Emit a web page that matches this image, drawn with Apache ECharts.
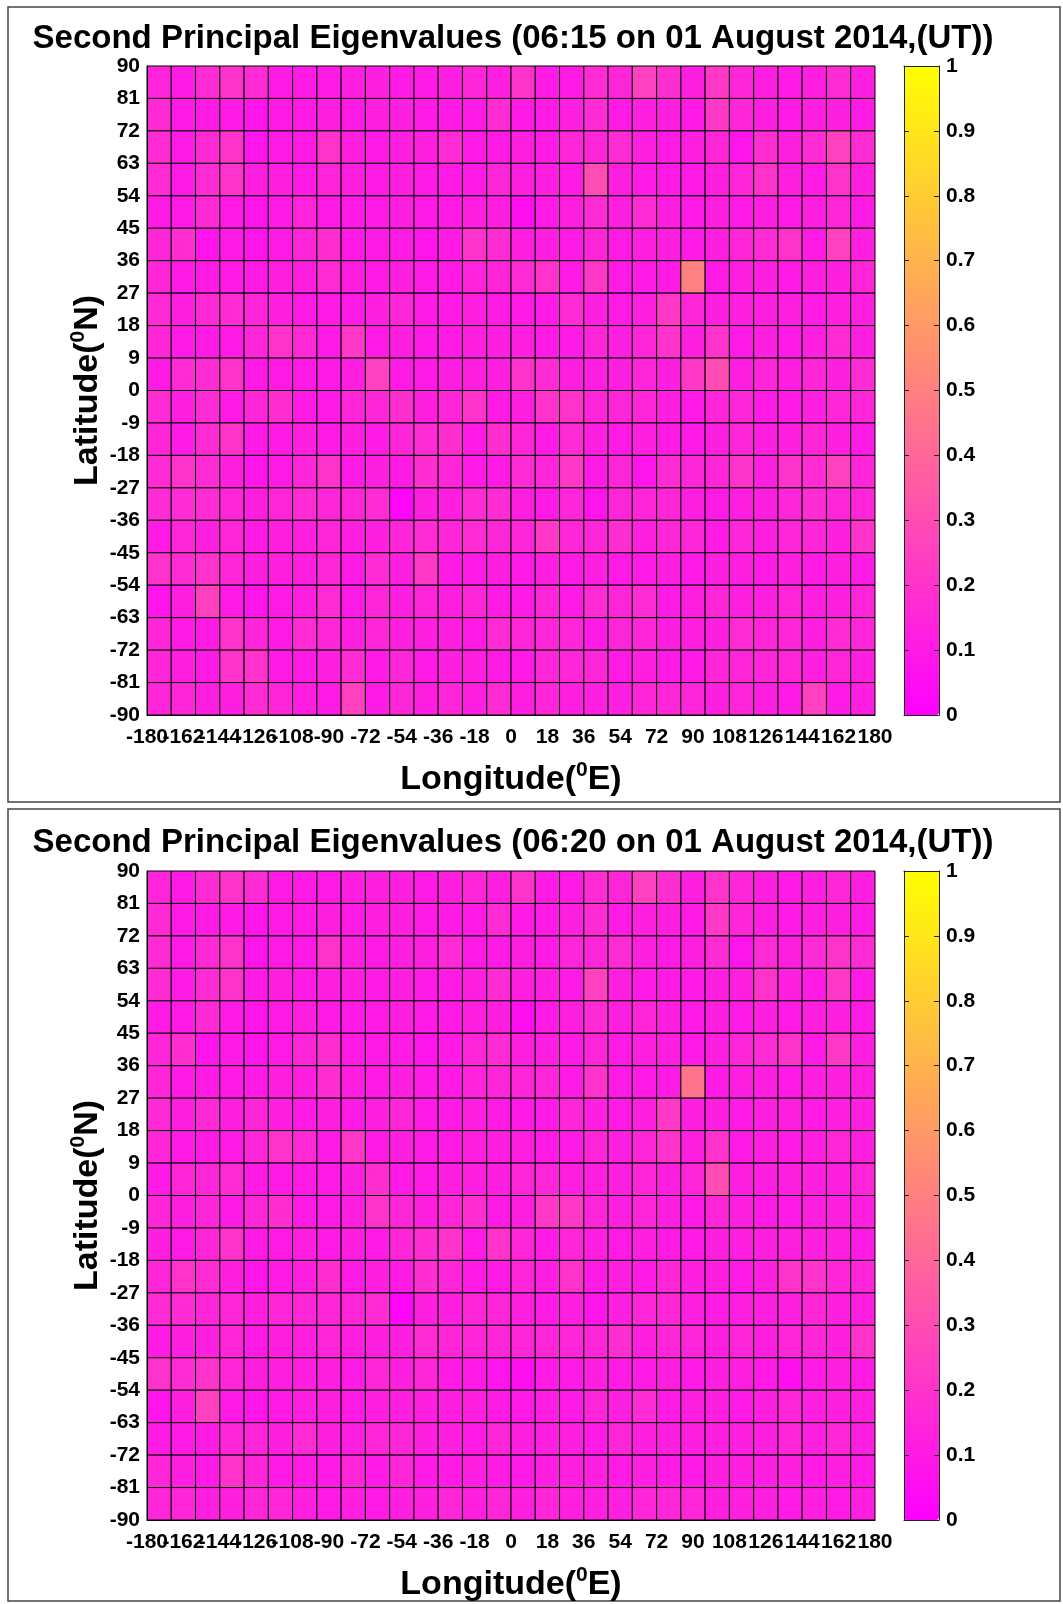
<!DOCTYPE html>
<html>
<head>
<meta charset="utf-8">
<script src="https://cdn.jsdelivr.net/npm/echarts@6/dist/echarts.min.js"></script>
<style>
html,body{margin:0;padding:0;background:#fff;}
#chart{width:1063px;height:1604px;}
</style>
</head>
<body>
<div id="chart"></div>
<script>
// ---- data ----
const titles = [
  'Second Principal Eigenvalues (06:15 on 01 August 2014,(UT))',
  'Second Principal Eigenvalues (06:20 on 01 August 2014,(UT))'
];
const lonTicks = [-180,-162,-144,-126,-108,-90,-72,-54,-36,-18,0,18,36,54,72,90,108,126,144,162,180];
const latTicks = [-90,-81,-72,-63,-54,-45,-36,-27,-18,-9,0,9,18,27,36,45,54,63,72,81,90];
const colorbarTicks = [0,0.1,0.2,0.3,0.4,0.5,0.6,0.7,0.8,0.9,1];
// cell lower-left corners: longitude -180..168 step 12, latitude 81 (first row) .. -90 (last row) step 9
const lonStep = 12;
const latStep = 9;
const lonStarts = [-180,-168,-156,-144,-132,-120,-108,-96,-84,-72,-60,-48,-36,-24,-12,0,12,24,36,48,60,72,84,96,108,120,132,144,156,168];
const latStarts = [81,72,63,54,45,36,27,18,9,0,-9,-18,-27,-36,-45,-54,-63,-72,-81,-90];

// eigenvalues at 06:15 UT, rows from latitude 81 (top) down to -90 (bottom)
const eig0615 = [
 [0.14,0.10,0.17,0.20,0.17,0.10,0.10,0.10,0.12,0.12,0.10,0.10,0.12,0.15,0.12,0.20,0.10,0.10,0.17,0.15,0.25,0.18,0.12,0.22,0.15,0.12,0.10,0.12,0.17,0.12],
 [0.16,0.10,0.10,0.10,0.08,0.10,0.10,0.12,0.10,0.12,0.12,0.10,0.10,0.10,0.17,0.10,0.10,0.12,0.17,0.10,0.12,0.12,0.10,0.22,0.15,0.12,0.10,0.12,0.12,0.10],
 [0.17,0.10,0.16,0.20,0.08,0.10,0.10,0.20,0.12,0.10,0.12,0.12,0.17,0.10,0.10,0.12,0.10,0.15,0.15,0.17,0.12,0.10,0.12,0.15,0.08,0.18,0.12,0.17,0.25,0.17],
 [0.17,0.10,0.17,0.20,0.12,0.12,0.10,0.14,0.12,0.10,0.12,0.10,0.10,0.10,0.15,0.12,0.12,0.10,0.30,0.12,0.10,0.10,0.10,0.12,0.15,0.20,0.12,0.10,0.20,0.12],
 [0.10,0.10,0.16,0.10,0.08,0.10,0.14,0.10,0.10,0.10,0.12,0.10,0.10,0.12,0.12,0.06,0.10,0.12,0.17,0.12,0.17,0.12,0.10,0.12,0.10,0.12,0.10,0.12,0.15,0.10],
 [0.15,0.18,0.08,0.10,0.08,0.10,0.15,0.18,0.10,0.10,0.10,0.08,0.10,0.20,0.17,0.12,0.12,0.10,0.15,0.10,0.12,0.12,0.10,0.12,0.15,0.17,0.20,0.10,0.25,0.12],
 [0.15,0.10,0.10,0.10,0.10,0.12,0.12,0.17,0.12,0.10,0.12,0.10,0.10,0.14,0.15,0.17,0.20,0.10,0.22,0.10,0.10,0.10,0.50,0.10,0.12,0.12,0.10,0.12,0.12,0.15],
 [0.16,0.12,0.16,0.17,0.15,0.12,0.10,0.10,0.10,0.12,0.15,0.10,0.10,0.12,0.10,0.10,0.10,0.17,0.12,0.10,0.12,0.22,0.15,0.12,0.12,0.12,0.12,0.10,0.12,0.12],
 [0.15,0.10,0.10,0.10,0.15,0.20,0.16,0.10,0.22,0.10,0.12,0.10,0.10,0.12,0.12,0.12,0.10,0.10,0.15,0.12,0.15,0.20,0.12,0.20,0.10,0.12,0.10,0.12,0.17,0.12],
 [0.10,0.17,0.17,0.20,0.10,0.10,0.10,0.10,0.12,0.25,0.10,0.10,0.12,0.12,0.12,0.20,0.17,0.12,0.12,0.12,0.15,0.12,0.22,0.30,0.12,0.15,0.12,0.15,0.12,0.17],
 [0.17,0.12,0.17,0.10,0.15,0.18,0.10,0.10,0.15,0.15,0.18,0.12,0.15,0.20,0.10,0.12,0.20,0.20,0.15,0.15,0.15,0.12,0.10,0.15,0.15,0.10,0.10,0.12,0.15,0.15],
 [0.15,0.10,0.17,0.20,0.10,0.10,0.12,0.10,0.12,0.10,0.15,0.17,0.18,0.10,0.18,0.15,0.10,0.17,0.12,0.10,0.12,0.10,0.10,0.12,0.15,0.12,0.12,0.15,0.12,0.10],
 [0.17,0.20,0.17,0.12,0.08,0.10,0.15,0.20,0.10,0.12,0.10,0.18,0.15,0.10,0.10,0.17,0.15,0.22,0.10,0.15,0.08,0.17,0.15,0.15,0.20,0.12,0.20,0.17,0.25,0.15],
 [0.17,0.17,0.17,0.15,0.12,0.15,0.17,0.15,0.15,0.17,0.02,0.12,0.12,0.17,0.17,0.12,0.10,0.15,0.08,0.15,0.15,0.15,0.12,0.10,0.12,0.12,0.15,0.17,0.15,0.15],
 [0.10,0.15,0.12,0.15,0.10,0.12,0.12,0.15,0.12,0.12,0.15,0.17,0.15,0.17,0.15,0.15,0.22,0.15,0.15,0.18,0.12,0.15,0.15,0.10,0.15,0.12,0.15,0.15,0.12,0.20],
 [0.20,0.17,0.20,0.15,0.12,0.12,0.12,0.15,0.10,0.17,0.12,0.22,0.10,0.10,0.12,0.10,0.12,0.10,0.12,0.10,0.10,0.12,0.10,0.12,0.12,0.10,0.12,0.10,0.12,0.10],
 [0.08,0.12,0.25,0.10,0.08,0.10,0.12,0.17,0.10,0.15,0.12,0.15,0.12,0.15,0.10,0.10,0.15,0.10,0.17,0.15,0.17,0.10,0.12,0.15,0.12,0.12,0.15,0.12,0.12,0.15],
 [0.15,0.10,0.10,0.20,0.15,0.10,0.17,0.15,0.12,0.15,0.12,0.12,0.12,0.10,0.17,0.15,0.15,0.15,0.10,0.15,0.15,0.12,0.12,0.12,0.17,0.15,0.15,0.12,0.17,0.15],
 [0.15,0.12,0.10,0.20,0.20,0.10,0.10,0.12,0.17,0.10,0.15,0.10,0.12,0.12,0.10,0.10,0.15,0.15,0.15,0.10,0.12,0.10,0.10,0.15,0.15,0.15,0.15,0.12,0.15,0.12],
 [0.15,0.15,0.12,0.12,0.17,0.15,0.12,0.10,0.25,0.10,0.15,0.12,0.15,0.12,0.17,0.12,0.15,0.12,0.12,0.12,0.15,0.15,0.15,0.12,0.15,0.12,0.10,0.25,0.10,0.12]
];

// eigenvalues at 06:20 UT, rows from latitude 81 (top) down to -90 (bottom)
const eig0620 = [
 [0.14,0.10,0.17,0.20,0.17,0.10,0.10,0.10,0.12,0.12,0.12,0.10,0.12,0.15,0.12,0.20,0.10,0.10,0.17,0.15,0.25,0.18,0.12,0.20,0.15,0.12,0.10,0.12,0.15,0.12],
 [0.16,0.10,0.10,0.10,0.08,0.10,0.10,0.12,0.10,0.12,0.12,0.10,0.10,0.10,0.17,0.10,0.10,0.12,0.17,0.10,0.12,0.12,0.10,0.22,0.15,0.12,0.10,0.12,0.12,0.10],
 [0.17,0.10,0.16,0.20,0.08,0.10,0.10,0.20,0.12,0.10,0.12,0.12,0.17,0.10,0.10,0.12,0.10,0.15,0.15,0.17,0.12,0.10,0.12,0.17,0.08,0.17,0.12,0.17,0.20,0.17],
 [0.17,0.10,0.17,0.20,0.10,0.12,0.10,0.12,0.12,0.10,0.12,0.10,0.10,0.12,0.17,0.12,0.12,0.10,0.25,0.12,0.10,0.10,0.10,0.12,0.12,0.20,0.12,0.10,0.22,0.10],
 [0.10,0.10,0.16,0.10,0.08,0.10,0.12,0.10,0.10,0.10,0.12,0.10,0.10,0.12,0.12,0.06,0.10,0.12,0.17,0.12,0.15,0.12,0.10,0.12,0.10,0.12,0.10,0.12,0.12,0.10],
 [0.15,0.18,0.08,0.10,0.08,0.10,0.15,0.18,0.10,0.10,0.10,0.08,0.10,0.15,0.17,0.12,0.12,0.10,0.15,0.10,0.12,0.12,0.10,0.12,0.15,0.17,0.20,0.10,0.22,0.12],
 [0.15,0.10,0.10,0.10,0.10,0.12,0.12,0.18,0.12,0.10,0.12,0.10,0.10,0.14,0.15,0.15,0.15,0.10,0.20,0.10,0.10,0.10,0.45,0.10,0.12,0.12,0.10,0.12,0.12,0.12],
 [0.16,0.12,0.16,0.12,0.15,0.12,0.10,0.12,0.10,0.12,0.15,0.10,0.10,0.12,0.10,0.10,0.10,0.15,0.12,0.10,0.12,0.22,0.12,0.12,0.10,0.12,0.12,0.10,0.12,0.12],
 [0.15,0.10,0.10,0.10,0.15,0.20,0.16,0.10,0.22,0.10,0.12,0.10,0.10,0.12,0.12,0.12,0.10,0.10,0.15,0.12,0.15,0.20,0.12,0.20,0.10,0.12,0.10,0.12,0.15,0.12],
 [0.10,0.15,0.15,0.17,0.10,0.10,0.10,0.10,0.12,0.18,0.10,0.10,0.12,0.12,0.12,0.15,0.15,0.12,0.12,0.12,0.15,0.12,0.15,0.30,0.12,0.12,0.12,0.12,0.12,0.15],
 [0.15,0.12,0.15,0.10,0.15,0.18,0.10,0.10,0.12,0.20,0.15,0.12,0.15,0.18,0.10,0.12,0.22,0.22,0.15,0.12,0.15,0.12,0.10,0.15,0.12,0.10,0.10,0.12,0.12,0.12],
 [0.12,0.10,0.15,0.20,0.10,0.10,0.12,0.10,0.12,0.10,0.15,0.18,0.20,0.10,0.20,0.15,0.10,0.15,0.12,0.10,0.12,0.10,0.10,0.12,0.12,0.12,0.12,0.12,0.12,0.10],
 [0.15,0.20,0.17,0.12,0.08,0.10,0.12,0.18,0.10,0.12,0.10,0.18,0.15,0.10,0.10,0.15,0.12,0.20,0.10,0.12,0.10,0.15,0.12,0.12,0.10,0.12,0.20,0.20,0.15,0.15],
 [0.17,0.17,0.15,0.15,0.12,0.15,0.15,0.15,0.15,0.17,0.02,0.12,0.12,0.15,0.15,0.12,0.10,0.12,0.08,0.12,0.15,0.15,0.12,0.10,0.12,0.12,0.12,0.15,0.12,0.12],
 [0.10,0.12,0.12,0.15,0.10,0.12,0.12,0.15,0.12,0.12,0.12,0.17,0.15,0.15,0.15,0.15,0.15,0.15,0.15,0.18,0.12,0.15,0.15,0.12,0.15,0.12,0.15,0.15,0.12,0.20],
 [0.20,0.17,0.20,0.15,0.12,0.12,0.12,0.12,0.10,0.15,0.12,0.15,0.10,0.10,0.08,0.06,0.10,0.10,0.12,0.10,0.10,0.12,0.10,0.12,0.12,0.10,0.06,0.10,0.12,0.10],
 [0.08,0.12,0.25,0.10,0.08,0.10,0.12,0.12,0.10,0.12,0.12,0.12,0.12,0.12,0.10,0.10,0.12,0.10,0.15,0.12,0.17,0.10,0.12,0.12,0.10,0.12,0.15,0.12,0.12,0.12],
 [0.10,0.10,0.10,0.15,0.15,0.12,0.17,0.12,0.12,0.15,0.15,0.12,0.12,0.10,0.15,0.12,0.12,0.12,0.10,0.15,0.12,0.12,0.12,0.12,0.12,0.12,0.15,0.12,0.15,0.12],
 [0.15,0.12,0.10,0.20,0.15,0.10,0.10,0.10,0.15,0.10,0.15,0.10,0.10,0.12,0.10,0.10,0.12,0.12,0.12,0.10,0.12,0.10,0.10,0.12,0.12,0.12,0.12,0.10,0.12,0.10],
 [0.15,0.15,0.12,0.12,0.15,0.15,0.12,0.10,0.12,0.10,0.12,0.12,0.15,0.12,0.15,0.12,0.15,0.12,0.12,0.12,0.15,0.15,0.15,0.12,0.12,0.12,0.10,0.12,0.10,0.12]
];

// ---- build ----
const FONT = '"Liberation Sans", Arial, Helvetica, sans-serif';
function toCells(mat) {
  const out = [];
  mat.forEach((row, i) => row.forEach((v, j) => out.push([lonStarts[j], latStarts[i], v])));
  return out;
}
const chart = echarts.init(document.getElementById('chart'), null, {renderer: 'canvas'});

const panelTop = [66, 871];
const plotLeft = 147, plotW = 728, plotH = 649;
const cbLeft = 904, cbW = 35;

const grids = [], xAxes = [], yAxes = [], series = [], visualMaps = [], graphics = [];
const tickLabel = {color: '#000', fontFamily: FONT, fontWeight: 'bold', fontSize: 21};
const lonMin = lonTicks[0], lonMax = lonTicks[lonTicks.length - 1];
const isEvenTick = v => Math.round((v - lonMin) / 18) % 2 === 0;

[eig0615, eig0620].forEach((mat, k) => {
  const top = panelTop[k];
  grids.push({left: plotLeft, top: top, width: plotW, height: plotH, outerBoundsMode: 'none', containLabel: false});
  grids.push({left: cbLeft, top: top, width: cbW, height: plotH, outerBoundsMode: 'none', containLabel: false});
  const gMain = 2 * k, gCb = 2 * k + 1;

  // longitude axis: even labels (-180, -144, ...) on one axis, odd labels (-162, -126, ...) on a twin
  xAxes.push({
    gridIndex: gMain, type: 'value', min: lonMin, max: lonMax, interval: 18,
    position: 'bottom', z: 10,
    axisLine: {show: true, onZero: false, lineStyle: {color: '#000', width: 1}},
    axisTick: {show: false}, splitLine: {show: false},
    axisLabel: Object.assign({margin: 12, showMinLabel: true, showMaxLabel: true, hideOverlap: false,
      formatter: v => (isEvenTick(v) ? String(v) : '')}, tickLabel)
  });
  xAxes.push({
    gridIndex: gMain, type: 'value', min: lonMin, max: lonMax, interval: 18,
    position: 'bottom', offset: 0, z: 11,
    axisLine: {show: false, onZero: false}, axisTick: {show: false}, splitLine: {show: false},
    axisLabel: Object.assign({margin: 12, showMinLabel: true, showMaxLabel: true, hideOverlap: false,
      formatter: v => (isEvenTick(v) ? '' : String(v))}, tickLabel)
  });
  yAxes.push({
    gridIndex: gMain, type: 'value', min: latTicks[0], max: latTicks[latTicks.length - 1], interval: 9,
    position: 'left', z: 10,
    axisLine: {show: true, onZero: false, lineStyle: {color: '#000', width: 1}},
    axisTick: {show: false}, splitLine: {show: false},
    axisLabel: Object.assign({margin: 7, showMinLabel: true, showMaxLabel: true, hideOverlap: false}, tickLabel)
  });
  // colorbar axes
  xAxes.push({gridIndex: gCb, type: 'value', min: 0, max: 1, position: 'bottom', z: 10,
    axisLine: {show: true, onZero: false, lineStyle: {color: '#222', width: 1}},
    axisTick: {show: false}, axisLabel: {show: false}, splitLine: {show: false}});
  xAxes.push({gridIndex: gCb, type: 'value', min: 0, max: 1, position: 'top', z: 10,
    axisLine: {show: true, onZero: false, lineStyle: {color: '#222', width: 1}},
    axisTick: {show: false}, axisLabel: {show: false}, splitLine: {show: false}});
  yAxes.push({gridIndex: gCb, type: 'value', min: colorbarTicks[0], max: colorbarTicks[colorbarTicks.length - 1], interval: 0.1,
    position: 'right', z: 10,
    axisLine: {show: true, onZero: false, lineStyle: {color: '#222', width: 1}},
    axisTick: {show: true, inside: true, length: 5, lineStyle: {color: '#222'}},
    splitLine: {show: false},
    axisLabel: Object.assign({margin: 7, showMinLabel: true, showMaxLabel: true, hideOverlap: false,
      formatter: v => (Math.abs(v) < 1e-9 ? '0' : Math.abs(v - 1) < 1e-9 ? '1' : v.toFixed(1))}, tickLabel)
  });
  yAxes.push({gridIndex: gCb, type: 'value', min: 0, max: 1, interval: 0.1, position: 'left', z: 10,
    axisLine: {show: true, onZero: false, lineStyle: {color: '#222', width: 1}},
    axisTick: {show: true, inside: true, length: 5, lineStyle: {color: '#222'}},
    splitLine: {show: false}, axisLabel: {show: false}
  });

  const xIdx = 4 * k, yIdx = 3 * k;
  series.push({
    type: 'custom',
    name: titles[k],
    xAxisIndex: xIdx, yAxisIndex: yIdx,
    data: toCells(mat),
    dimensions: ['lon', 'lat', 'value'],
    encode: {x: 0, y: 1},
    silent: true,
    animation: false,
    renderItem: function (params, api) {
      const lon = api.value(0), lat = api.value(1);
      const p0 = api.coord([lon, lat + latStep]);
      const p1 = api.coord([lon + lonStep, lat]);
      return {
        type: 'rect',
        shape: {x: p0[0], y: p0[1], width: p1[0] - p0[0], height: p1[1] - p0[1]},
        style: {fill: api.visual('color'), stroke: '#000', lineWidth: 1}
      };
    }
  });
  visualMaps.push({
    type: 'continuous', seriesIndex: k, dimension: 2, min: 0, max: 1,
    inRange: {color: ['#ff00ff', '#ffff00']},
    left: cbLeft, top: top, itemWidth: cbW, itemHeight: plotH,
    padding: 0, calculable: false, text: null, showLabel: false, realtime: false, hoverLink: false
  });

  graphics.push({type: 'rect', z: 0, silent: true,
    shape: {x: 8, y: k === 0 ? 7 : 809, width: 1052, height: k === 0 ? 795 : 792},
    style: {fill: 'none', stroke: '#444', lineWidth: 1.5}});
  graphics.push({type: 'text', x: 513, y: k === 0 ? 39 : 843, silent: true,
    style: {text: titles[k], fill: '#000', font: 'bold 33px ' + FONT,
      align: 'center', verticalAlign: 'middle', textAlign: 'center', textVerticalAlign: 'middle'}});
  const richName = {
    a: {fontSize: 34, fontWeight: 'bold', fontFamily: FONT, fill: '#000', lineHeight: 40, verticalAlign: 'middle'},
    s: {fontSize: 21, fontWeight: 'bold', fontFamily: FONT, fill: '#000', lineHeight: 16, verticalAlign: 'top'}
  };
  graphics.push({type: 'text', x: 511, y: top + 714, silent: true,
    style: {text: '{a|Longitude(}{s|0}{a|E)}', fill: '#000', align: 'center', verticalAlign: 'middle',
      textAlign: 'center', textVerticalAlign: 'middle', rich: richName}});
  graphics.push({type: 'text', x: 88, y: top + plotH / 2, rotation: Math.PI / 2, silent: true,
    style: {text: '{a|Latitude(}{s|0}{a|N)}', fill: '#000', align: 'center', verticalAlign: 'middle',
      textAlign: 'center', textVerticalAlign: 'middle', rich: richName}});
});

chart.setOption({
  backgroundColor: '#fff',
  animation: false,
  grid: grids,
  xAxis: xAxes,
  yAxis: yAxes,
  visualMap: visualMaps,
  series: series,
  graphic: graphics
});
</script>
</body>
</html>
